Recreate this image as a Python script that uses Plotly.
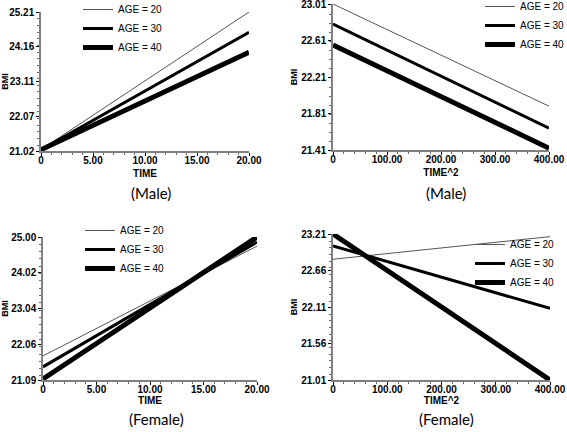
import plotly.graph_objects as go

# ---- data ----
ages = ["AGE = 20", "AGE = 30", "AGE = 40"]

male_time_x = [0, 20]
male_time = {"AGE = 20": [21.06, 25.21], "AGE = 30": [21.06, 24.60], "AGE = 40": [21.06, 24.00]}
male_time_yticks = [21.02, 22.07, 23.11, 24.16, 25.21]

male_t2_x = [0, 400]
male_t2 = {"AGE = 20": [23.01, 21.89], "AGE = 30": [22.79, 21.65], "AGE = 40": [22.56, 21.43]}
male_t2_yticks = [21.41, 21.81, 22.21, 22.61, 23.01]

fem_time_x = [0, 20]
fem_time = {"AGE = 20": [21.75, 24.75], "AGE = 30": [21.45, 24.86], "AGE = 40": [21.12, 25.00]}
fem_time_yticks = [21.09, 22.06, 23.04, 24.02, 25.00]

fem_t2_x = [0, 400]
fem_t2 = {"AGE = 20": [22.83, 23.17], "AGE = 30": [23.03, 22.09], "AGE = 40": [23.21, 21.01]}
fem_t2_yticks = [21.01, 21.56, 22.11, 22.66, 23.21]

time_ticks = [0, 5, 10, 15, 20]
time_ticktext = ["0", "5.00", "10.00", "15.00", "20.00"]
t2_ticks = [0, 100, 200, 300, 400]
t2_ticktext = ["0", "100.00", "200.00", "300.00", "400.00"]

styles = {"AGE = 20": dict(color="#555555", width=1),
          "AGE = 30": dict(color="black", width=3),
          "AGE = 40": dict(color="black", width=5)}

W, H = 567, 432
def px(x): return x / W
def py(y): return 1 - y / H

panels = [
    dict(xd=(41, 249), yd=(12, 151), x=male_time_x, d=male_time, yt=male_time_yticks,
         xt=time_ticks, xtt=time_ticktext, xtitle="TIME", leg=(78, -5), so=5),
    dict(xd=(333, 549), yd=(4, 150), x=male_t2_x, d=male_t2, yt=male_t2_yticks,
         xt=t2_ticks, xtt=t2_ticktext, xtitle="TIME^2", leg=(480, -8), so=5),
    dict(xd=(43, 257), yd=(237, 380), x=fem_time_x, d=fem_time, yt=fem_time_yticks,
         xt=time_ticks, xtt=time_ticktext, xtitle="TIME", leg=(80, 216), so=3),
    dict(xd=(333, 550), yd=(234, 380), x=fem_t2_x, d=fem_t2, yt=fem_t2_yticks,
         xt=t2_ticks, xtt=t2_ticktext, xtitle="TIME^2", leg=(470, 230), so=3),
]

fig = go.Figure()
tickfont = dict(family="Liberation Sans", size=10, color="black", weight="bold")
layout = {}
for i, p in enumerate(panels):
    n = "" if i == 0 else str(i + 1)
    legname = "legend" + n
    for a in ages:
        fig.add_trace(go.Scatter(x=p["x"], y=p["d"][a], mode="lines", name=a,
                                 line=styles[a], xaxis="x" + n, yaxis="y" + n,
                                 legend=legname, showlegend=True))
    common = dict(showgrid=False, zeroline=False, showline=True, linecolor="#808080",
                  linewidth=1.5, ticks="outside", ticklen=3, tickcolor="black",
                  tickfont=tickfont, automargin=False, ticklabeloverflow="allow",
                  minor=dict(ticks="outside", ticklen=2, tickcolor="#666666", nticks=5))
    layout["xaxis" + n] = dict(common, domain=[px(p["xd"][0]), px(p["xd"][1])],
                               range=[p["xt"][0], p["xt"][-1]], tickvals=p["xt"],
                               ticktext=p["xtt"], anchor="y" + n, ticklabelstandoff=-4,
                               title=dict(text=p["xtitle"], standoff=p["so"],
                                          font=dict(family="Liberation Sans", size=10,
                                                    weight="bold", color="black")))
    layout["yaxis" + n] = dict(common, domain=[py(p["yd"][1]), py(p["yd"][0])],
                               range=[p["yt"][0], p["yt"][-1]], tickvals=p["yt"],
                               ticktext=[f"{v:.2f}" for v in p["yt"]], anchor="x" + n,
                               title=dict(text="BMI", standoff=2,
                                          font=dict(family="Liberation Sans", size=9,
                                                    weight="bold", color="black")))
    layout[legname] = dict(x=px(p["leg"][0]), y=py(p["leg"][1]), xanchor="left",
                           yanchor="top", bgcolor="rgba(0,0,0,0)",
                           font=dict(family="Liberation Sans", size=10, color="black"),
                           itemwidth=30, tracegroupgap=0)

fig.update_layout(**layout)
fig.update_layout(width=W, height=H,
                  margin=dict(l=0, r=0, t=0, b=0, autoexpand=False),
                  paper_bgcolor="white", plot_bgcolor="white", showlegend=True)

sub = [("(Male)", 151, 193), ("(Male)", 446, 193), ("(Female)", 156, 419), ("(Female)", 446, 419)]
for text, cx, cy in sub:
    fig.add_annotation(text=text, x=px(cx), y=py(cy), xref="paper", yref="paper",
                       showarrow=False, xanchor="center", yanchor="middle",
                       font=dict(family="Lato", size=15, color="black"))

fig.write_html("out.html", config={"displayModeBar": False},
               post_script="document.body.style.margin='0px';")
